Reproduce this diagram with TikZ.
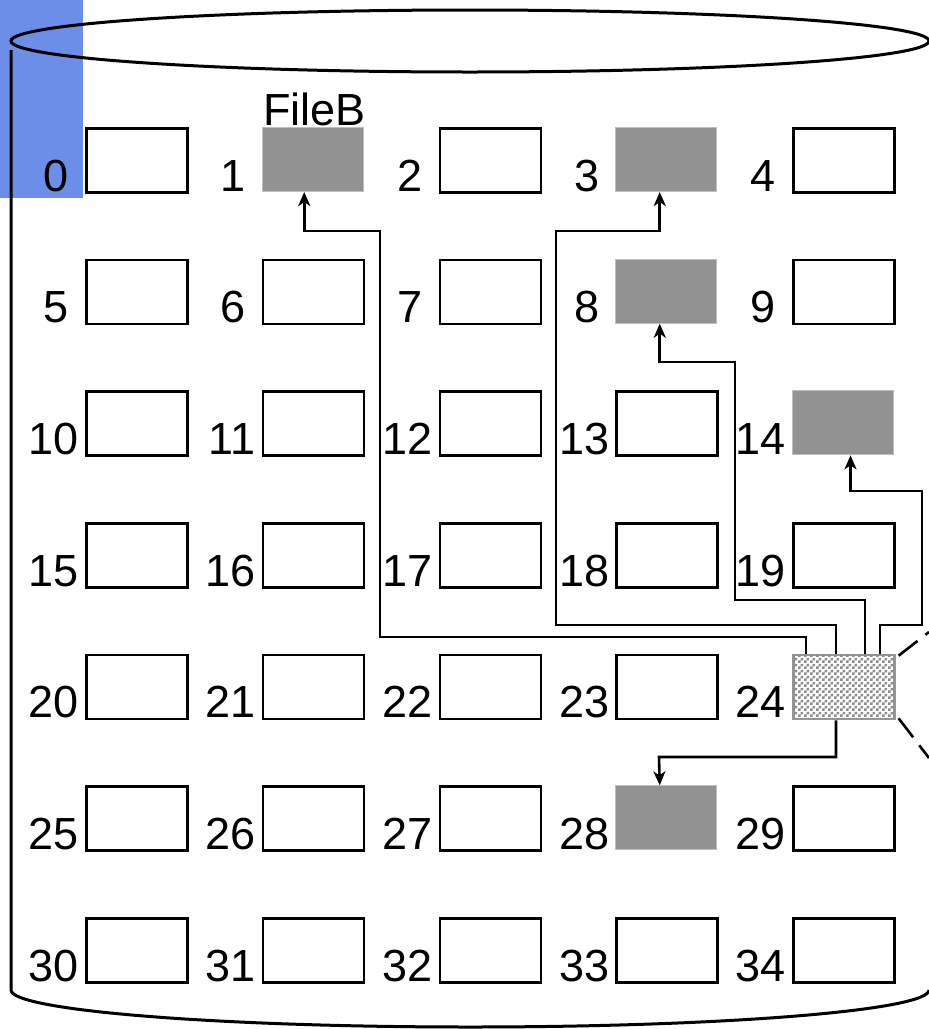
\documentclass[tikz,border=0pt]{standalone}
\usepackage{fontspec}
\setmainfont{Liberation Sans}
\usetikzlibrary{patterns,arrows.meta}
\definecolor{barblue}{RGB}{108,142,232}
\definecolor{usedgrey}{RGB}{146,146,146}
\definecolor{usededge}{RGB}{190,190,190}
\definecolor{chkgrey}{RGB}{150,150,150}
\definecolor{chkfill}{RGB}{140,140,140}
\pgfdeclarepatternformonly{chkthree}{\pgfpointorigin}{\pgfpoint{6pt}{6pt}}{\pgfpoint{6pt}{6pt}}{%
  \pgfpathrectangle{\pgfpointorigin}{\pgfpoint{3pt}{3pt}}%
  \pgfpathrectangle{\pgfpoint{3pt}{3pt}}{\pgfpoint{3pt}{3pt}}%
  \pgfusepath{fill}}
\tikzset{
  cell/.style={draw=black, line width=2.6pt, fill=white, minimum width=101pt, minimum height=64pt, inner sep=0pt, anchor=north west},
  s1/.style={draw=usededge, line width=1pt, fill=usedgrey},
  s3/.style={draw=usededge, line width=1pt, fill=usedgrey},
  s8/.style={draw=usededge, line width=1pt, fill=usedgrey},
  s14/.style={draw=usededge, line width=1pt, fill=usedgrey},
  s28/.style={draw=usededge, line width=1pt, fill=usedgrey},
  s24/.style={draw=chkgrey, line width=2.6pt, fill=white, postaction={pattern=chkthree, pattern color=chkfill}},
  lab/.style={font=\fontsize{45}{50}\selectfont, inner sep=0pt, anchor=base east},
  cyl/.style={line width=3pt, draw=black},
  link/.style={line width=2.6pt, -{Stealth[length=14pt, width=12pt, inset=4pt]}},
  dashlink/.style={line width=2.6pt, dash pattern=on 24pt off 10pt}
}
\begin{document}
\begin{tikzpicture}[x=1pt, y=-1pt]
\useasboundingbox (0,0) rectangle (929,1029);
\fill[barblue] (0,0) rectangle (83,198);
\draw[cyl] (470,41) ellipse [x radius=459, y radius=31];
\draw[cyl] (11,50) -- (11,990) .. controls (11,1010.4) and (216.6,1027) .. (470,1027)
  .. controls (723.4,1027) and (929,1010.4) .. (929,990);
\foreach \r in {0,...,6} {
  \foreach \c in {0,...,4} {
    \pgfmathtruncatemacro\n{\r*5+\c}
    \pgfmathsetmacro\x{85+176.75*\c}
    \pgfmathsetmacro\y{127+131.67*\r}
    \pgfmathsetmacro\yb{\y+64}
    \ifnum\n<10 \pgfmathsetmacro\lx{\x-16}\else\pgfmathsetmacro\lx{\x-6}\fi
    \node[cell, s\n/.try] (b\n) at (\x,\y) {};
    \node[lab] (l\n) at (\lx,\yb) {\n};
  }
}
\node[font=\fontsize{45}{50}\selectfont, inner sep=0pt, anchor=base west] (fb) at (263,125) {FileB};
% connectors from block 24
\draw[link] ([xshift=14pt]b24.north west) |- (380,637) -- (380,231) -| ([xshift=-8.5pt]b1.south);
\draw[link] ([xshift=44pt]b24.north west) |- (556,625) -- (556,231) -| ([xshift=-6.5pt]b3.south);
\draw[link] ([xshift=73pt]b24.north west) |- (735,600) -- (735,362) -| ([xshift=-6.5pt]b8.south);
\draw[link] ([xshift=88pt]b24.north west) |- (922,625) -- (922,491) -| ([xshift=7.5pt]b14.south);
\draw[link] ([xshift=44pt]b24.south west) |- (659,757) -- ([xshift=-6.5pt]b28.north);
\coordinate (d1) at (929,632);
\coordinate (d2) at (929,758);
\draw[dashlink] ([shift={(3pt,-2pt)}]b24.north east) -- (d1);
\draw[dashlink] ([shift={(3pt,2pt)}]b24.south east) -- (d2);
\end{tikzpicture}
\end{document}
